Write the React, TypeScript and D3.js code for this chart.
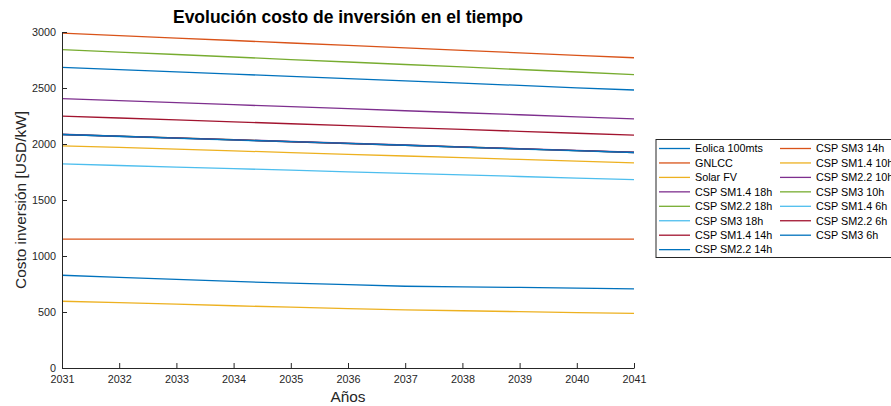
import React, { useEffect, useRef } from 'react';
import * as d3 from 'd3';

const years: number[] = [2031, 2032, 2033, 2034, 2035, 2036, 2037, 2038, 2039, 2040, 2041];
const yTicks: number[] = [0, 500, 1000, 1500, 2000, 2500, 3000];

const seriesNames: string[] = [
  'Eolica 100mts', 'GNLCC', 'Solar FV',
  'CSP SM1.4 18h', 'CSP SM2.2 18h', 'CSP SM3 18h',
  'CSP SM1.4 14h', 'CSP SM2.2 14h', 'CSP SM3 14h',
  'CSP SM1.4 10h', 'CSP SM2.2 10h', 'CSP SM3 10h',
  'CSP SM1.4 6h', 'CSP SM2.2 6h', 'CSP SM3 6h',
];

const eolica = [828, 810, 792, 773, 757, 745, 730, 725, 719, 713, 707];
const gnlcc = [1150, 1150, 1150, 1150, 1150, 1150, 1150, 1150, 1150, 1150, 1150];
const solarFv = [596, 583, 570, 556, 543, 531, 519, 511, 503, 495, 488];
const cspSm14h18 = [2405, 2387, 2369, 2351, 2333, 2315, 2297, 2279, 2261, 2243, 2225];
const cspSm22h18 = [2086, 2070, 2054, 2038, 2022, 2006, 1990, 1973, 1957, 1941, 1925];
const cspSm3h18 = [2083, 2067, 2051, 2035, 2019, 2003, 1987, 1971, 1955, 1939, 1923];
const cspSm14h14 = [2249, 2232, 2215, 2198, 2181, 2164, 2147, 2130, 2113, 2096, 2079];
const cspSm22h14 = [2684, 2664, 2644, 2624, 2604, 2584, 2563, 2543, 2523, 2502, 2482];
const cspSm3h14 = [2990, 2968, 2946, 2924, 2902, 2880, 2858, 2836, 2814, 2792, 2770];
const cspSm14h10 = [1984, 1969, 1954, 1939, 1923, 1908, 1893, 1878, 1862, 1847, 1832];
const cspSm22h10 = [2087, 2071, 2055, 2039, 2023, 2007, 1991, 1975, 1959, 1943, 1927];
const cspSm3h10 = [2843, 2821, 2799, 2777, 2754, 2732, 2710, 2688, 2665, 2643, 2620];
const cspSm14h6 = [1822, 1808, 1794, 1780, 1766, 1752, 1738, 1724, 1710, 1696, 1682];
const cspSm22h6 = [2084, 2068, 2052, 2036, 2020, 2004, 1988, 1972, 1956, 1940, 1924];
const cspSm3h6 = [2085, 2069, 2053, 2037, 2021, 2005, 1989, 1972, 1956, 1940, 1924];

const seriesValues: number[][] = [
  eolica, gnlcc, solarFv,
  cspSm14h18, cspSm22h18, cspSm3h18,
  cspSm14h14, cspSm22h14, cspSm3h14,
  cspSm14h10, cspSm22h10, cspSm3h10,
  cspSm14h6, cspSm22h6, cspSm3h6,
];

const palette = ['#0072BD', '#D95319', '#EDB120', '#7E2F8E', '#77AC30', '#4DBEEE', '#A2142F'];

const FONT = '"Liberation Sans", Arial, Helvetica, sans-serif';
const AX = '#262626';

export default function App() {
  const ref = useRef<SVGSVGElement>(null);

  useEffect(() => {
    const svg = d3.select(ref.current);
    svg.selectAll('*').remove();

    const width = 891;
    const height = 406;
    const margin = { top: 32, left: 62, right: 257, bottom: 38 };

    const x = d3.scaleLinear()
      .domain([2031, 2041])
      .range([margin.left, width - margin.right]);

    const y = d3.scaleLinear()
      .domain([0, 3000])
      .range([height - margin.bottom, margin.top]);

    // title
    svg.append('text')
      .attr('x', (margin.left + width - margin.right) / 2)
      .attr('y', 23)
      .attr('text-anchor', 'middle')
      .style('font-family', FONT)
      .style('font-weight', 'bold')
      .style('font-size', '17.5px')
      .attr('fill', '#000')
      .text('Evolución costo de inversión en el tiempo');

    // lines
    const line = d3.line<number>()
      .x((d, i) => x(years[i]))
      .y((d) => y(d));

    svg.append('g')
      .selectAll('path')
      .data(seriesValues)
      .enter()
      .append('path')
      .attr('d', (d) => line(d))
      .attr('fill', 'none')
      .attr('stroke', (d, i) => palette[i % palette.length])
      .attr('stroke-width', 1.3);

    // axes
    const xAxis = (g: any) => g
      .attr('transform', `translate(0, ${y(0)})`)
      .call(d3.axisBottom(x).tickValues(years).tickFormat(d3.format('d')).tickSize(-5).tickSizeOuter(0).tickPadding(7))
      .call(() => g.select('.domain').attr('stroke', AX));

    const yAxis = (g: any) => g
      .attr('transform', `translate(${margin.left}, 0)`)
      .call(d3.axisLeft(y).tickValues(yTicks).tickFormat(d3.format('d')).tickSize(-5).tickSizeOuter(0).tickPadding(6))
      .call(() => g.select('.domain').attr('stroke', AX));

    svg.append('g').call(xAxis);
    svg.append('g').call(yAxis);

    svg.selectAll('.tick line').attr('stroke', AX);
    svg.selectAll('.tick text')
      .attr('fill', AX)
      .style('font-family', FONT)
      .style('font-size', '10.8px');

    // axis labels
    svg.append('text')
      .attr('x', x(2036))
      .attr('y', 402)
      .attr('text-anchor', 'middle')
      .style('font-family', FONT)
      .style('font-size', '15.4px')
      .attr('fill', AX)
      .text('Años');

    svg.append('text')
      .attr('transform', `translate(26, ${(y(0) + y(3000)) / 2}) rotate(-90)`)
      .attr('text-anchor', 'middle')
      .style('font-family', FONT)
      .style('font-size', '15.4px')
      .attr('fill', AX)
      .text('Costo inversión [USD/kW]');

    // legend
    const legend = svg.append('g').attr('transform', 'translate(656, 139.5)');
    legend.append('rect')
      .attr('x', 0)
      .attr('y', 0)
      .attr('width', 260)
      .attr('height', 118)
      .attr('fill', '#fff')
      .attr('stroke', AX)
      .attr('stroke-width', 1);

    const rows = 8;
    const items = legend.selectAll('.item')
      .data(seriesNames)
      .enter()
      .append('g')
      .attr('class', 'item')
      .attr('transform', (d, i) => `translate(${i < rows ? 3 : 124}, ${9 + (i % rows) * 14.45})`);

    items.append('line')
      .attr('x1', 0)
      .attr('x2', 31)
      .attr('stroke', (d, i) => palette[i % palette.length])
      .attr('stroke-width', 1.3);

    items.append('text')
      .attr('x', 36)
      .attr('dy', '0.35em')
      .style('font-family', FONT)
      .style('font-size', '10.8px')
      .attr('fill', '#000')
      .text((d) => d);
  }, []);

  return (
    <svg
      ref={ref}
      width={891}
      height={406}
      style={{ position: 'absolute', left: 0, top: 0, background: '#fff' }}
    />
  );
}
